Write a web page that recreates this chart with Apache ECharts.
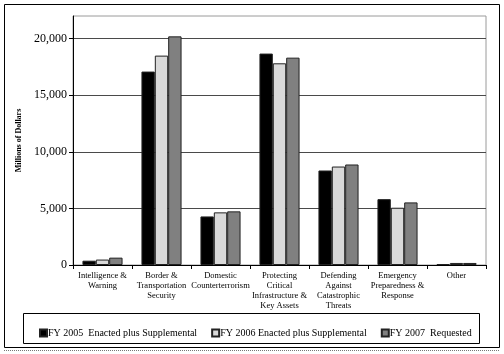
<!DOCTYPE html>
<html>
<head>
<meta charset="utf-8">
<script src="https://cdn.jsdelivr.net/npm/echarts@6/dist/echarts.min.js"></script>
<style>
  html, body { margin: 0; padding: 0; background: #fff; }
  #chart { width: 504px; height: 354px; }
</style>
</head>
<body>
<div id="chart"></div>
<script>
// categories and values (millions of dollars)
const categories = [
  "Intelligence &\nWarning",
  "Border &\nTransportation\nSecurity",
  "Domestic\nCounterterrorism",
  "Protecting\nCritical\nInfrastructure &\nKey Assets",
  "Defending\nAgainst\nCatastrophic\nThreats",
  "Emergency\nPreparedness &\nResponse",
  "Other",
];
const seriesNames = [
  "FY 2005  Enacted plus Supplemental",
  "FY 2006 Enacted plus Supplemental",
  "FY 2007  Requested",
];
const fy2005 = [380, 17090, 4290, 18680, 8350, 5820, 80];
const fy2006 = [480, 18500, 4650, 17820, 8700, 5060, 180];
const fy2007 = [650, 20200, 4740, 18320, 8880, 5530, 180];
const yTicks = [0, 5000, 10000, 15000, 20000];

const font = "'Liberation Serif', 'Times New Roman', serif";
const colors = ["#000000", "#d9d9d9", "#808080"];

const chart = echarts.init(document.getElementById("chart"));

const option = {
  animation: false,
  textStyle: { fontFamily: font },
  graphic: [
    {
      // outer frame
      type: "rect",
      shape: { x: 4.5, y: 4.5, width: 495, height: 343 },
      style: { fill: "none", stroke: "#000", lineWidth: 1 },
      silent: true,
    },
    {
      type: "line",
      shape: { x1: 4, y1: 350.5, x2: 500, y2: 350.5 },
      style: { stroke: "#777", lineWidth: 1, lineDash: [1, 1] },
      silent: true,
    },
    {
      // legend box
      type: "rect",
      shape: { x: 23.5, y: 313.5, width: 456, height: 30 },
      style: { fill: "none", stroke: "#000", lineWidth: 1 },
      silent: true,
    },
  ],
  grid: {
    left: 73,
    right: 18,
    top: 16,
    bottom: 89,
    show: true,
    borderColor: "#9a9a9a",
    borderWidth: 1,
  },
  legend: {
    data: seriesNames,
    left: 34,
    top: 323,
    width: 460,
    itemWidth: 7,
    itemHeight: 7,
    itemGap: 14,
    icon: "rect",
    textStyle: { fontFamily: font, fontSize: 10, color: "#000", padding: [0, 0, 0, -4] },
  },
  xAxis: {
    type: "category",
    data: categories,
    axisLine: { lineStyle: { color: "#000", width: 1 } },
    axisTick: { show: true, length: 4, lineStyle: { color: "#000" } },
    axisLabel: {
      interval: 0,
      fontFamily: font,
      fontSize: 8.5,
      color: "#000",
      lineHeight: 10,
      margin: 6,
    },
  },
  yAxis: {
    type: "value",
    min: 0,
    max: 22000,
    interval: 5000,
    name: "Millions of Dollars",
    nameLocation: "middle",
    nameGap: 42,
    nameTextStyle: { fontFamily: font, fontSize: 8, fontWeight: "bold", color: "#000" },
    axisLine: { show: true, lineStyle: { color: "#000", width: 1 } },
    axisTick: { show: true, length: 4, lineStyle: { color: "#000" } },
    axisLabel: {
      fontFamily: font,
      fontSize: 12,
      color: "#000",
      margin: 6,
      showMaxLabel: false,
      formatter: (v) => (yTicks.indexOf(v) >= 0 ? v.toLocaleString("en-US") : ""),
    },
    splitLine: { show: true, showMaxLine: false, lineStyle: { color: "#4a4a4a", width: 1 } },
  },
  series: [fy2005, fy2006, fy2007].map((d, i) => ({
    name: seriesNames[i],
    type: "bar",
    data: d,
    barGap: "0%",
    barCategoryGap: "32%",
    itemStyle: { color: colors[i], borderColor: "#222", borderWidth: 1 },
  })),
};

chart.setOption(option);
</script>
</body>
</html>
